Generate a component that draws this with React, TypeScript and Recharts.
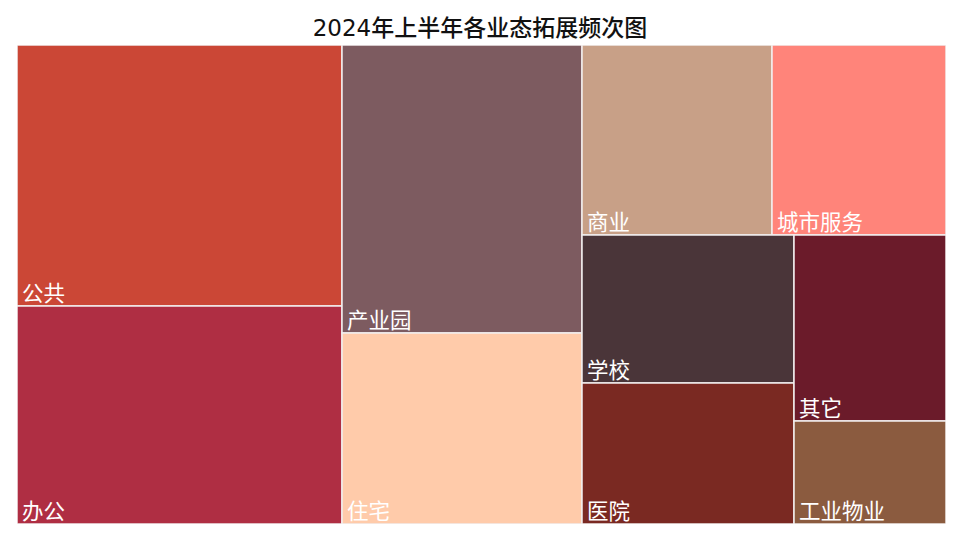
import { Treemap } from "recharts";

const categories = ["公共", "办公", "产业园", "住宅", "商业", "城市服务", "学校", "医院", "其它", "工业物业"];
const counts = [54, 45, 44, 29, 23, 21, 20, 19, 18, 10];
const colors = [
  "#CB4736",
  "#AF2E43",
  "#7D5B60",
  "#FFCBAA",
  "#C8A087",
  "#FF847A",
  "#4A3539",
  "#7A2922",
  "#6B1B2A",
  "#8B5B3F",
];

const treeData = categories.map((name, i) => ({ name, value: counts[i], idx: i }));

const FONT = '"DejaVu Sans", "Noto Sans CJK SC", sans-serif';

function Cell(props: any) {
  const { x, y, width, height, name, depth, idx } = props;
  if (depth !== 1) return null;
  return (
    <g>
      <rect
        x={x}
        y={y}
        width={width}
        height={height}
        fill={colors[idx]}
        stroke="#f2eeee"
        strokeWidth={1.5}
      />
      <text
        x={x + 5}
        y={y + height - 5}
        fill="#ffffff"
        fontSize={21.5}
        fontFamily={FONT}
        stroke="none"
      >
        {name}
      </text>
    </g>
  );
}

export default function App() {
  return (
    <div
      style={{
        position: "fixed",
        left: 0,
        top: 0,
        width: 960,
        height: 540,
        background: "#fff",
      }}
    >
      <div
        style={{
          position: "absolute",
          left: 0,
          top: 13,
          width: 960,
          textAlign: "center",
          fontFamily: FONT,
          fontSize: 23,
          fontWeight: 500,
          lineHeight: "30px",
          color: "#111",
        }}
      >
        2024年上半年各业态拓展频次图
      </div>
      <div style={{ position: "absolute", left: 17, top: 45 }}>
        <Treemap
          width={929}
          height={479}
          data={treeData}
          dataKey="value"
          nameKey="name"
          aspectRatio={1}
          isAnimationActive={false}
          content={<Cell />}
        />
      </div>
    </div>
  );
}
